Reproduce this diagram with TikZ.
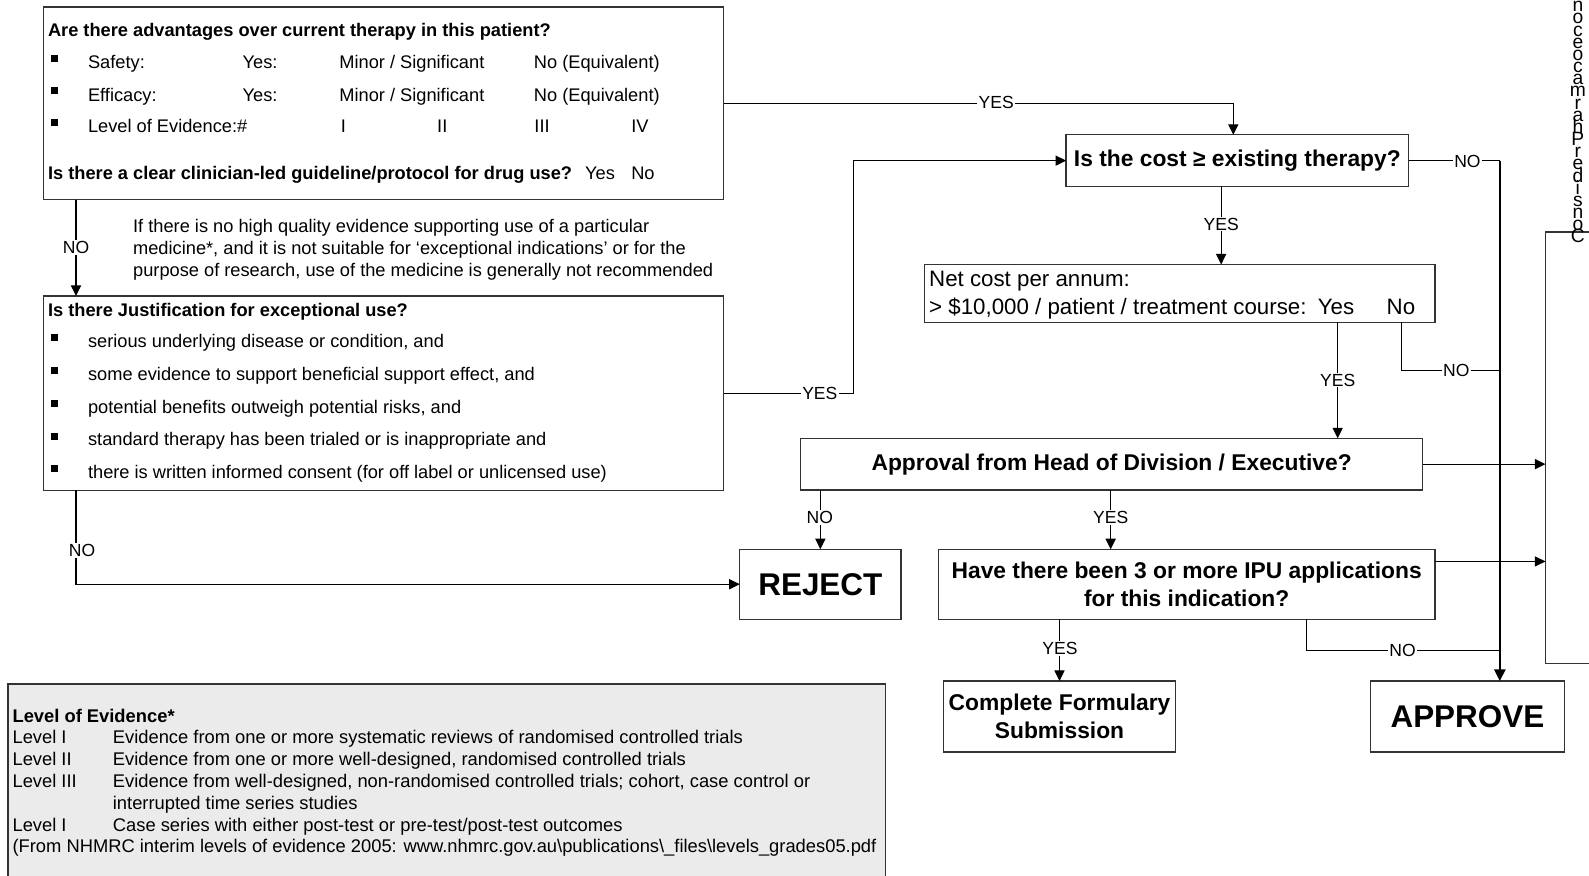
\documentclass[tikz,border=0pt]{standalone}
\usepackage{fontspec}
\setmainfont{Liberation Sans}
\usetikzlibrary{arrows.meta}
\begin{document}
\begin{tikzpicture}[x=0.5pt,y=-0.5pt,
  box/.style={draw=black!80, line width=0.6pt, inner sep=0pt, outer sep=0pt},
  conn/.style={draw=black, line width=0.5pt},
  arr/.style={conn, -{Triangle[length=5.2pt,width=5pt]}},
  thickarr/.style={draw=black, line width=1pt, -{Triangle[length=5.8pt,width=5.6pt]}},
  lbl/.style={fill=white, inner sep=0.6pt, font=\fontsize{8.65}{10}\selectfont},
  txt/.style={anchor=base west, inner sep=0pt, font=\fontsize{9}{10.8}\selectfont},
  btxt/.style={anchor=base west, inner sep=0pt, font=\fontsize{9}{10.8}\selectfont\bfseries},
  ltxt/.style={anchor=base west, inner sep=0pt, font=\fontsize{9.05}{10.8}\selectfont},
  bigtxt/.style={anchor=base west, inner sep=0pt, font=\fontsize{11}{13.5}\selectfont},
  bul/.style={fill=black, minimum size=3.5pt, inner sep=0pt, outer sep=0pt},
  vstack/.style={inner sep=0pt, align=center, font={\fontsize{9.5}{6}\selectfont\lineskiplimit=-100pt\lineskip=0pt}}
]
\useasboundingbox (0,0) rectangle (1568,864);

% ---------- boxes ----------
\node[box, anchor=north west, minimum width=335.5pt, minimum height=95pt] (box1) at (43,7) {};
\node[box, anchor=north west, minimum width=335.5pt, minimum height=96pt] (box2) at (43,292) {};
\node[box, minimum width=169pt, minimum height=25.5pt, font=\fontsize{11.25}{13.5}\selectfont\bfseries] (cost) at (1221,158.5) {Is the cost ≥ existing therapy?};
\node[box, anchor=north west, minimum width=252pt, minimum height=28.5pt] (net) at (912,261) {};
\node[box, minimum width=307pt, minimum height=25.5pt, font=\fontsize{11.25}{13.5}\selectfont\bfseries] (appr) at (1097,458) {Approval from Head of Division / Executive?};
\node[box, minimum width=79.5pt, minimum height=34.5pt, font=\fontsize{15.5}{18}\selectfont\bfseries] (reject) at (809.5,576.5) {REJECT};
\node[box, minimum width=245pt, minimum height=34.5pt, align=center, font=\fontsize{11.25}{13.5}\selectfont\bfseries] (ipu) at (1171,576.5) {Have there been 3 or more IPU applications\\for this indication?};
\node[box, minimum width=114.5pt, minimum height=35pt, align=center, font=\fontsize{11.25}{14}\selectfont\bfseries] (cfs) at (1045.5,707) {Complete Formulary\\Submission};
\node[box, minimum width=96pt, minimum height=35pt, font=\fontsize{15.5}{18}\selectfont\bfseries] (approve) at (1448,707) {APPROVE};
\node[box, anchor=north west, minimum width=40pt, minimum height=213pt] (tall) at (1525,229) {};
\node[box, fill=black!8, anchor=north west, minimum width=433pt, minimum height=102.5pt] (legend) at (8,675) {};

% ---------- box 1 text ----------
\node[btxt] (q1) at (47,36.5) {Are there advantages over current therapy in this patient?};
\node[bul] (b11) at (53.5,57.5) {};
\node[bul] (b12) at (53.5,89.7) {};
\node[bul] (b13) at (53.5,121) {};
\node[txt] (s1) at (86.5,67.4) {Safety:};
\node[txt] (s2) at (239,67.4) {Yes:};
\node[txt] (s3) at (334.5,67.4) {Minor / Significant};
\node[txt] (s4) at (526.5,67.4) {No (Equivalent)};
\node[txt] (e1) at (86.5,99.7) {Efficacy:};
\node[txt] (e2) at (239,99.7) {Yes:};
\node[txt] (e3) at (334.5,99.7) {Minor / Significant};
\node[txt] (e4) at (526.5,99.7) {No (Equivalent)};
\node[txt] (v1) at (86.5,131) {Level of Evidence:\#};
\node[txt] (v2) at (336,131) {I};
\node[txt] (v3) at (431,131) {II};
\node[txt] (v4) at (527,131) {III};
\node[txt] (v5) at (622.5,131) {IV};
\node[btxt] (g1) at (47,177) {Is there a clear clinician-led guideline/protocol for drug use?};
\node[txt] (g2) at (577,177) {Yes};
\node[txt] (g3) at (622.5,177) {No};

% ---------- note ----------
\node[txt] (n1) at (131,229.3) {If there is no high quality evidence supporting use of a particular};
\node[txt] (n2) at (131,251.6) {medicine*, and it is not suitable for ‘exceptional indications’ or for the};
\node[txt] (n3) at (131,273) {purpose of research, use of the medicine is generally not recommended};

% ---------- box 2 text ----------
\node[btxt] (j0) at (47,312.5) {Is there Justification for exceptional use?};
\node[bul] (b21) at (53.5,333.2) {};
\node[bul] (b22) at (53.5,365.5) {};
\node[bul] (b23) at (53.5,398.5) {};
\node[bul] (b24) at (53.5,430.5) {};
\node[bul] (b25) at (53.5,462.5) {};
\node[txt] (j1) at (86.5,342.7) {serious underlying disease or condition, and};
\node[txt] (j2) at (86.5,375) {some evidence to support beneficial support effect, and};
\node[txt] (j3) at (86.5,408) {potential benefits outweigh potential risks, and};
\node[txt] (j4) at (86.5,440) {standard therapy has been trialed or is inappropriate and};
\node[txt] (j5) at (86.5,472) {there is written informed consent (for off label or unlicensed use)};

% ---------- net cost text ----------
\node[bigtxt] (nc1) at (916.5,283) {Net cost per annum:};
\node[bigtxt] (nc2) at (916.5,310.2) {> \$10,000 / patient / treatment course:};
\node[bigtxt] (nc3) at (1300,310.2) {Yes};
\node[bigtxt] (nc4) at (1368,310.2) {No};

% ---------- legend text ----------
\node[ltxt, font=\fontsize{9.05}{10.8}\selectfont\bfseries] (lg0) at (12,712.5) {Level of Evidence*};
\node[ltxt] (lg1a) at (12,734) {Level I};
\node[ltxt] (lg1b) at (111,734) {Evidence from one or more systematic reviews of randomised controlled trials};
\node[ltxt] (lg2a) at (12,755.5) {Level II};
\node[ltxt] (lg2b) at (111,755.5) {Evidence from one or more well-designed, randomised controlled trials};
\node[ltxt] (lg3a) at (12,777) {Level III};
\node[ltxt] (lg3b) at (111,777) {Evidence from well-designed, non-randomised controlled trials; cohort, case control or};
\node[ltxt] (lg3c) at (111,798.5) {interrupted time series studies};
\node[ltxt] (lg4a) at (12,820) {Level I};
\node[ltxt] (lg4b) at (111,820) {Case series with either post-test or pre-test/post-test outcomes};
\node[ltxt] (lg5) at (12,841.5) {(From NHMRC interim levels of evidence 2005: www.nhmrc.gov.au\textbackslash publications\textbackslash\_files\textbackslash levels\_grades05.pdf};

% ---------- vertical clipped text (stacked letters) ----------
\node[vstack, anchor=north] (vtext) at (1557,1) {n\\o\\c\\e\\o\\c\\a\\m\\r\\a\\h\\P\\r\\e\\d\\i\\s\\n\\o\\C};

% ---------- coordinates ----------
\coordinate (x75) at (75,0);
\coordinate (x842) at (842,0);
\coordinate (x1217) at (1217,0);
\coordinate (x1205) at (1205,0);
\coordinate (x1320) at (1320,0);
\coordinate (x1383) at (1383,0);
\coordinate (x1096) at (1096,0);
\coordinate (x1289) at (1289,0);
\coordinate (vx) at (1480,0);
\coordinate (nonet) at (1480,366);
\coordinate (noipu) at (1480,642);

% ---------- connectors ----------
\draw[arr] (box1.east) -| (cost.north -| x1217);
\draw[arr] (box1.south -| x75) -- (box2.north -| x75);
\draw[arr] (box2.east) -| (x842 |- cost.west) -- (cost.west);
\draw[arr] (box2.south -| x75) |- (reject.west);
\draw[conn] (cost.east) -- (cost.east -| vx);
\draw[thickarr] (cost.east -| vx) -- (vx |- approve.north);
\draw[arr] (cost.south -| x1205) -- (net.north -| x1205);
\draw[conn] (net.south -| x1383) |- (nonet);
\draw[arr] (net.south -| x1320) -- (appr.north -| x1320);
\draw[arr] (appr.east) -- (appr.east -| tall.west);
\draw[arr] ([yshift=-6pt]ipu.north east) -- ([yshift=-6pt]ipu.north east -| tall.west);
\draw[arr] (appr.south -| reject.north) -- (reject.north);
\draw[arr] (appr.south -| x1096) -- (ipu.north -| x1096);
\draw[arr] (ipu.south -| cfs.north) -- (cfs.north);
\draw[conn] (ipu.south -| x1289) |- (noipu);

% ---------- labels ----------
\node[lbl] (la1) at (983,101.5) {YES};
\node[lbl] (la2) at (75,244) {NO};
\node[lbl] (la3) at (809,388) {YES};
\node[lbl] (la4) at (81,543) {NO};
\node[lbl] (la5) at (1448,159) {NO};
\node[lbl] (la6) at (1205,221) {YES};
\node[lbl] (la7) at (1437,366) {NO};
\node[lbl] (la8) at (1320,375) {YES};
\node[lbl] (la9) at (809,511) {NO};
\node[lbl] (la10) at (1096,511) {YES};
\node[lbl] (la11) at (1046,640) {YES};
\node[lbl] (la12) at (1384,642) {NO};
\end{tikzpicture}
\end{document}
